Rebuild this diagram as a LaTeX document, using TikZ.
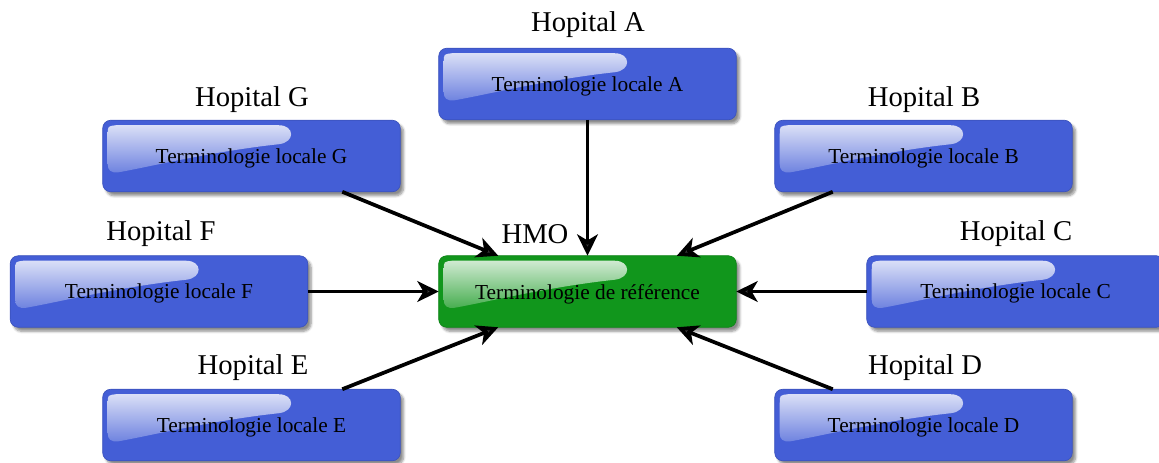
\documentclass[tikz,border=0pt]{standalone}
\usepackage{fontspec}
\setmainfont{Liberation Serif}
\usetikzlibrary{calc,arrows.meta,shadows.blur}
\pgfdeclarelayer{background}
\pgfsetlayers{background,main}
\definecolor{boxblue}{RGB}{68,94,214}
\definecolor{boxgreen}{RGB}{17,150,28}
\tikzset{
  termbox/.style={minimum width=222.75pt, minimum height=53.25pt, inner sep=0pt,
    text depth=0pt, font=\fontsize{16}{18}\selectfont},
  boxbody/.style={draw=#1!88!black, line width=0.5pt, fill=#1, rounded corners=6pt,
    blur shadow={shadow xshift=2.5pt, shadow yshift=-3pt, shadow blur steps=6, shadow opacity=45}},
  gloss/.style={top color=white!80!#1, bottom color=white!22!#1},
  hosp/.style={font=\fontsize{21.5}{24}\selectfont, inner sep=0pt},
  conn/.style={line width=2.8pt, -{Stealth[length=16pt,width=15.5pt,inset=4.5pt]}}
}
\begin{document}
\begin{tikzpicture}[x=0.75pt,y=-0.75pt]
\useasboundingbox (0,0) rectangle (1159,462);
\node[termbox] (H) at (587.5,291.5) {Terminologie de référence};
\node[termbox] (A) at (587.5,84) {Terminologie locale A};
\node[termbox] (G) at (251.5,156) {Terminologie locale G};
\node[termbox] (B) at (923.5,156) {Terminologie locale B};
\node[termbox] (F) at (159,291.5) {Terminologie locale F};
\node[termbox] (C) at (1015.5,291.5) {Terminologie locale C};
\node[termbox] (E) at (251.5,425) {Terminologie locale E};
\node[termbox] (D) at (923.5,425) {Terminologie locale D};

\begin{pgfonlayer}{background}
\foreach \n/\c in {H/boxgreen,A/boxblue,G/boxblue,B/boxblue,F/boxblue,C/boxblue,E/boxblue,D/boxblue}{
  \path[boxbody=\c] (\n.north west) rectangle (\n.south east);
  \begin{scope}[shift={(\n.north west)}]
    \shade[gloss=\c]
      (5,44) -- (5,14) .. controls (5,6) .. (13,5) -- (176,5)
      .. controls (192,5) and (193,22) .. (176,24)
      .. controls (110,31) and (45,47) .. (16,52)
      .. controls (8,53) and (5,50) .. (5,44) -- cycle;
  \end{scope}
}
\end{pgfonlayer}

\node[hosp] (lA) at (588,25) {Hopital A};
\node[hosp] (lG) at (252,100) {Hopital G};
\node[hosp] (lB) at (924,100) {Hopital B};
\node[hosp] (lF) at (161,234) {Hopital F};
\node[hosp] (lH) at (535,234) {HMO};
\node[hosp] (lC) at (1016,234) {Hopital C};
\node[hosp] (lE) at (253,368) {Hopital E};
\node[hosp] (lD) at (925,368) {Hopital D};

\draw[conn] (A.south) -- (H.north);
\draw[conn] ($(G.south)!0.61!(G.south east)$) -- ($(H.north)!0.6!(H.north west)$);
\draw[conn] ($(B.south)!0.61!(B.south west)$) -- ($(H.north)!0.6!(H.north east)$);
\draw[conn] (F.east) -- (H.west);
\draw[conn] (C.west) -- (H.east);
\draw[conn] ($(E.north)!0.61!(E.north east)$) -- ($(H.south)!0.6!(H.south west)$);
\draw[conn] ($(D.north)!0.61!(D.north west)$) -- ($(H.south)!0.6!(H.south east)$);
\end{tikzpicture}
\end{document}
